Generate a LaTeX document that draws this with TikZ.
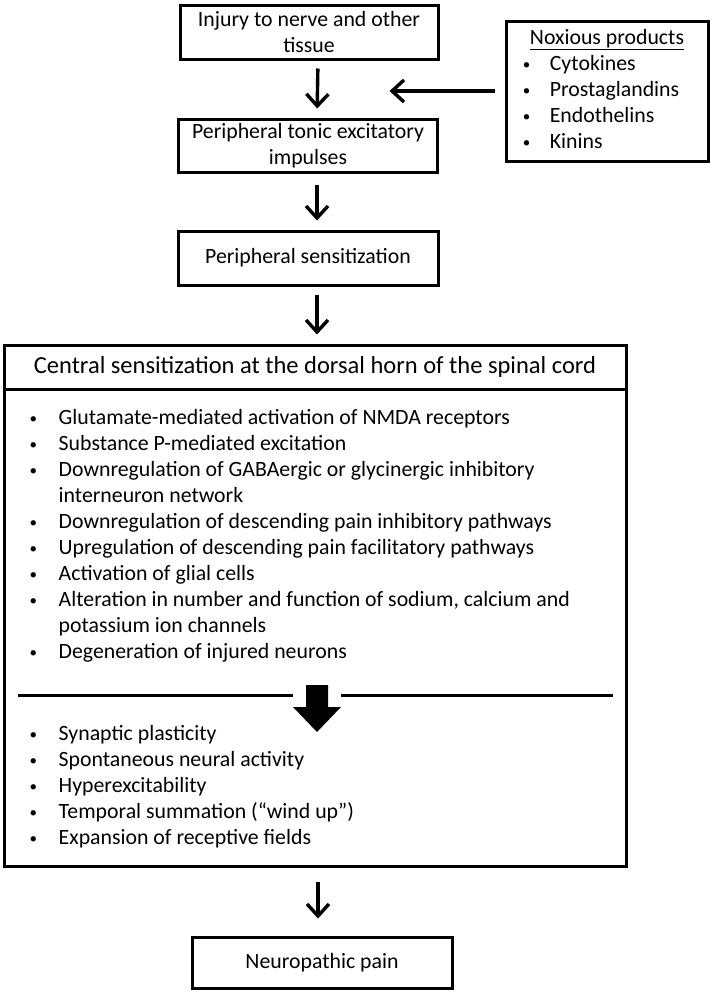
\documentclass[tikz,border=0pt]{standalone}
\usepackage{fontspec}
\setmainfont{Carlito}
\usetikzlibrary{arrows.meta,calc}

% small list bullet
\newcommand{\listdot}{\raisebox{0.1ex}{\fontsize{15}{15}\selectfont\textbullet}}

\begin{document}
\begin{tikzpicture}[x=1pt,y=-1pt,
                    every node/.style={font=\fontsize{21.8}{26}\selectfont},
                    flowbox/.style={draw,line width=3pt,align=center,inner sep=0pt},
                    flowarrow/.style={line width=3.4pt,-{Straight Barb[length=12pt,width=22pt]},
                                      shorten <=8pt,shorten >=9pt},
                    itemlist/.style={anchor=north west,inner sep=0pt}
]
\useasboundingbox (0,0) rectangle (714,993);

% Draw the upper boxes
\node [flowbox,minimum width=258pt,minimum height=54pt] at (309,32) (injury) {Injury to nerve and other\\tissue};
\node [flowbox,minimum width=259pt,minimum height=53pt] at (308,145.5) (tonic) {Peripheral tonic excitatory\\impulses};
\node [flowbox,minimum width=260pt,minimum height=54pt] at (308,258) (periph) {Peripheral sensitization};

% Noxious products box on the right.
\node [flowbox,minimum width=202pt,minimum height=140pt] at (607,91) (noxious)
    {\begin{tabular}{@{}p{27pt}@{}l@{\hspace{12pt}}}
     \multicolumn{2}{@{}c@{}}{\underline{Noxious products}}\\
     \listdot & Cytokines\\
     \listdot & Prostaglandins\\
     \listdot & Endothelins\\
     \listdot & Kinins
     \end{tabular}};

% Draw the central sensitization box
%
% Header and body share one edge.
\node [flowbox,minimum width=622pt,minimum height=44pt,font=\fontsize{24.5}{28}\selectfont] at (315,367) (central)
    {Central sensitization at the dorsal horn of the spinal cord};
\node [flowbox,minimum width=622pt,minimum height=477pt] at (315,627.5) (cbody) {};

% Mechanisms, above the dividing line.
\node [itemlist] at ($(cbody.north west)+(27,19)$) (mechs)
    {\begin{tabular}{@{}p{29pt}@{}l@{}}
     \listdot & Glutamate-mediated activation of NMDA receptors\\
     \listdot & Substance P-mediated excitation\\
     \listdot & Downregulation of GABAergic or glycinergic inhibitory\\
              & interneuron network\\
     \listdot & Downregulation of descending pain inhibitory pathways\\
     \listdot & Upregulation of descending pain facilitatory pathways\\
     \listdot & Activation of glial cells\\
     \listdot & Alteration in number and function of sodium, calcium and\\
              & potassium ion channels\\
     \listdot & Degeneration of injured neurons
     \end{tabular}};

% Effects, below the dividing line.
\node [itemlist] at ($(cbody.north west)+(27,335)$) (effects)
    {\begin{tabular}{@{}p{29pt}@{}l@{}}
     \listdot & Synaptic plasticity\\
     \listdot & Spontaneous neural activity\\
     \listdot & Hyperexcitability\\
     \listdot & Temporal summation (``wind up'')\\
     \listdot & Expansion of receptive fields
     \end{tabular}};

% Dividing line, broken round the fat arrow.
\coordinate (turn) at ($(cbody.center)+(2,67.5)$);
\draw [line width=3pt] ($(cbody.west)+(15,67.5)$) -- ($(turn)+(-24,0)$);
\draw [line width=3pt] ($(turn)+(24,0)$) -- ($(cbody.east)+(-15,67.5)$);
\fill [shift={(turn)}] (-11,-10) -- (11,-10) -- (11,12) -- (24,12) -- (0,37) -- (-24,12) -- (-11,12) -- cycle;

% Last box.
\node [flowbox,minimum width=260pt,minimum height=51pt] at (322,962.5) (pain) {Neuropathic pain};

% Arrows down the chain.
\draw [flowarrow] ($(injury.south)+(9,0)$) -- ($(tonic.north)+(9,0)$);
\draw [flowarrow,shorten <=11pt] ($(tonic.south)+(9,0)$) -- ($(periph.north)+(9,0)$);
\draw [flowarrow] ($(periph.south)+(9,0)$) -- ($(central.north)+(2,0)$);
\draw [flowarrow,shorten <=14pt,shorten >=17pt] ($(cbody.south)+(3,0)$) -- ($(pain.north)+(-4,0)$);

% Noxious products feed in from the right.
\coordinate (merge) at ($(noxious.west)+(-115,0)$);
\draw [flowarrow,shorten <=10pt,shorten >=0pt] (noxious.west) -- (merge);

\end{tikzpicture}
\end{document}
